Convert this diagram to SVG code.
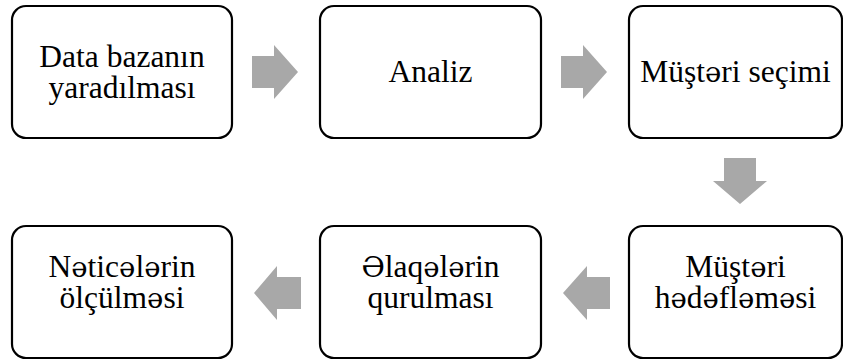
<svg xmlns="http://www.w3.org/2000/svg" width="843" height="362" viewBox="0 0 843 362">
<style>
.box{fill:#fff;stroke:#000;stroke-width:2.2}
.arr{fill:#A8A8A8;stroke:none}
.t{font-family:'Liberation Serif','Times New Roman',serif;font-size:31.5px;fill:#000;text-anchor:middle}
.s{font-family:'DejaVu Serif',serif;font-size:27.5px}
.S{font-family:'DejaVu Serif',serif;font-size:28.5px}
</style>
<rect width="843" height="362" fill="#fff"/>
<g id="connectors">
<polygon class="arr" points="252,56 274,56 274,45 298,72 274,99 274,88 252,88"/>
<polygon class="arr" points="561,56 583,56 583,45 607,72 583,99 583,88 561,88"/>
<polygon class="arr" points="724,158 756,158 756,181 767,181 740,204 713,181 724,181"/>
<polygon class="arr" points="610,277 587,277 587,266 563,293 587,320 587,309 610,309"/>
<polygon class="arr" points="301,277 277,277 277,266 254,293 277,320 277,309 301,309"/>
</g>
<g id="n1">
<rect class="box" x="12" y="6" width="220" height="132" rx="14"/>
<text class="t" x="122" y="66.5">Data bazanın</text>
<text class="t" x="122" y="97.5">yaradılması</text>
</g>
<g id="n2">
<rect class="box" x="320" y="6" width="221" height="132" rx="14"/>
<text class="t" x="430.5" y="82">Analiz</text>
</g>
<g id="n3">
<rect class="box" x="629" y="6" width="213" height="132" rx="14"/>
<text class="t" x="735.5" y="82">Müşt<tspan class="s">ə</tspan>ri seçimi</text>
</g>
<g id="n4">
<rect class="box" x="629" y="226" width="213" height="132" rx="14"/>
<text class="t" x="735.5" y="276.5">Müşt<tspan class="s">ə</tspan>ri</text>
<text class="t" x="735.5" y="307.5">h<tspan class="s">ə</tspan>d<tspan class="s">ə</tspan>fl<tspan class="s">ə</tspan>m<tspan class="s">ə</tspan>si</text>
</g>
<g id="n5">
<rect class="box" x="320" y="226" width="221" height="132" rx="14"/>
<text class="t" x="430.5" y="276.5"><tspan class="S">Ə</tspan>laq<tspan class="s">ə</tspan>l<tspan class="s">ə</tspan>rin</text>
<text class="t" x="430.5" y="307.5">qurulması</text>
</g>
<g id="n6">
<rect class="box" x="12" y="226" width="220" height="132" rx="14"/>
<text class="t" x="122" y="276.5">N<tspan class="s">ə</tspan>tic<tspan class="s">ə</tspan>l<tspan class="s">ə</tspan>rin</text>
<text class="t" x="122" y="307.5">ölçülm<tspan class="s">ə</tspan>si</text>
</g>
</svg>
